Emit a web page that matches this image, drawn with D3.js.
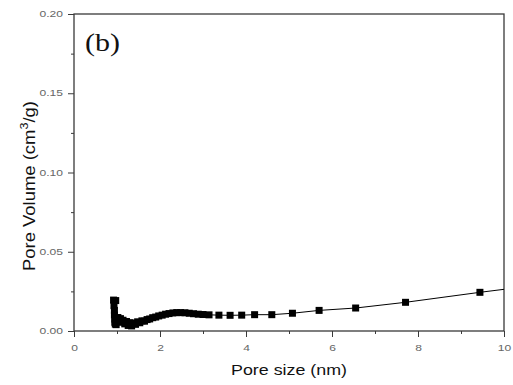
<!DOCTYPE html>
<html><head><meta charset="utf-8">
<script src="https://cdn.jsdelivr.net/npm/d3@7"></script>
<style>body{margin:0;background:#fff}</style>
</head><body>
<svg id="c" width="513" height="385"></svg>
<script>
const poreSize = [0.92,0.97,0.93,0.94,0.94,0.95,0.95,0.96,0.98,1.02,1.05,1.08,1.11,1.14,1.18,1.22,1.26,1.30,1.34,1.38,1.43,1.48,1.53,1.58,1.64,1.70,1.76,1.83,1.90,1.97,2.05,2.13,2.21,2.30,2.39,2.48,2.58,2.68,2.78,2.89,3.00,3.14,3.37,3.63,3.90,4.20,4.60,5.08,5.70,6.55,7.71,9.44,10.0];
const poreVolume = [0.0195,0.0192,0.0160,0.0130,0.0100,0.0075,0.0055,0.0044,0.0040,0.0085,0.0068,0.0078,0.0055,0.0068,0.0045,0.0060,0.0035,0.0052,0.0032,0.0050,0.0042,0.0058,0.0052,0.0064,0.0062,0.0072,0.0076,0.0084,0.0088,0.0095,0.0100,0.0106,0.0110,0.0114,0.0116,0.0116,0.0115,0.0112,0.0109,0.0106,0.0104,0.0102,0.0100,0.0099,0.0100,0.0103,0.0103,0.0112,0.0130,0.0145,0.0181,0.0244,0.0263];
const markerShown = poreSize.map((d,i)=> i < poreSize.length-1);
const xTicks = [0,2,4,6,8,10];
const yTicks = [0.00,0.05,0.10,0.15,0.20];
const panelLabel = "(b)";
const xTitle = "Pore size (nm)";

const svg = d3.select("#c");
const L=74,R=504,T=14,B=331;
const x = d3.scaleLinear().domain([0,10]).range([L,R]);
const y = d3.scaleLinear().domain([0,0.20]).range([B,T]);
const axisColor="#3a3a3a", labColor="#666";
const sans="Liberation Sans, Arial, sans-serif";

const gx = svg.append("g").attr("transform",`translate(0,${B})`)
  .call(d3.axisBottom(x).tickValues(xTicks).tickSize(6).tickFormat(d3.format("d")));
const gxm = svg.append("g").attr("transform",`translate(0,${B})`)
  .call(d3.axisBottom(x).tickValues([1,3,5,7,9]).tickSize(3).tickFormat(""));
const gy = svg.append("g").attr("transform",`translate(${L},0)`)
  .call(d3.axisLeft(y).tickValues(yTicks).tickSize(6).tickFormat(d3.format(".2f")));
const gym = svg.append("g").attr("transform",`translate(${L},0)`)
  .call(d3.axisLeft(y).tickValues([0.025,0.075,0.125,0.175]).tickSize(3).tickFormat(""));
[gx,gxm,gy,gym].forEach(g=>{
  g.selectAll("path").remove();
  g.selectAll("line").attr("stroke",axisColor).attr("stroke-width",1);
  g.selectAll("text").attr("fill",labColor).style("font-family",sans).style("font-size","8.5px");
});
gx.selectAll("text").attr("dy","1.25em");
gy.selectAll("text").attr("x",-11);
[gx,gy].forEach(g=>g.selectAll("text").each(function(){
  const len=this.getComputedTextLength();
  d3.select(this).attr("textLength",len*1.42).attr("lengthAdjust","spacingAndGlyphs");
}));

svg.append("rect").attr("x",L).attr("y",T).attr("width",R-L).attr("height",B-T)
  .attr("fill","none").attr("stroke",axisColor).attr("stroke-width",1.3);

const line = d3.line().x((d,i)=>x(poreSize[i])).y((d,i)=>y(poreVolume[i]));
svg.append("path").datum(poreSize).attr("d",line).attr("fill","none").attr("stroke","#000").attr("stroke-width",1);

const ms=7;
svg.append("g").selectAll("rect").data(poreSize.map((d,i)=>i).filter(i=>markerShown[i])).join("rect")
  .attr("x",i=>x(poreSize[i])-ms/2).attr("y",i=>y(poreVolume[i])-ms/2)
  .attr("width",ms).attr("height",ms).attr("fill","#000");

svg.append("text").attr("x",85).attr("y",51).text(panelLabel)
  .attr("textLength",35).attr("lengthAdjust","spacingAndGlyphs")
  .style("font-family","Liberation Serif, Times New Roman, serif").style("font-size","25px").attr("fill","#111");

svg.append("text").attr("x",231).attr("y",375).text(xTitle)
  .attr("textLength",116).attr("lengthAdjust","spacingAndGlyphs")
  .style("font-family",sans).style("font-size","15px").attr("fill","#111");

const yg = svg.append("g").attr("transform","translate(35,186) rotate(-90)");
const yt = yg.append("text").attr("text-anchor","middle")
  .style("font-family",sans).style("font-size","16px").attr("fill","#111");
yt.append("tspan").text("Pore Volume (cm");
yt.append("tspan").text("3").attr("dy",-7).style("font-size","11px");
yt.append("tspan").text("/g)").attr("dy",7);
const ylen = yt.node().getComputedTextLength();
yt.attr("transform",`scale(${170/ylen},1)`);
</script>
</body></html>
